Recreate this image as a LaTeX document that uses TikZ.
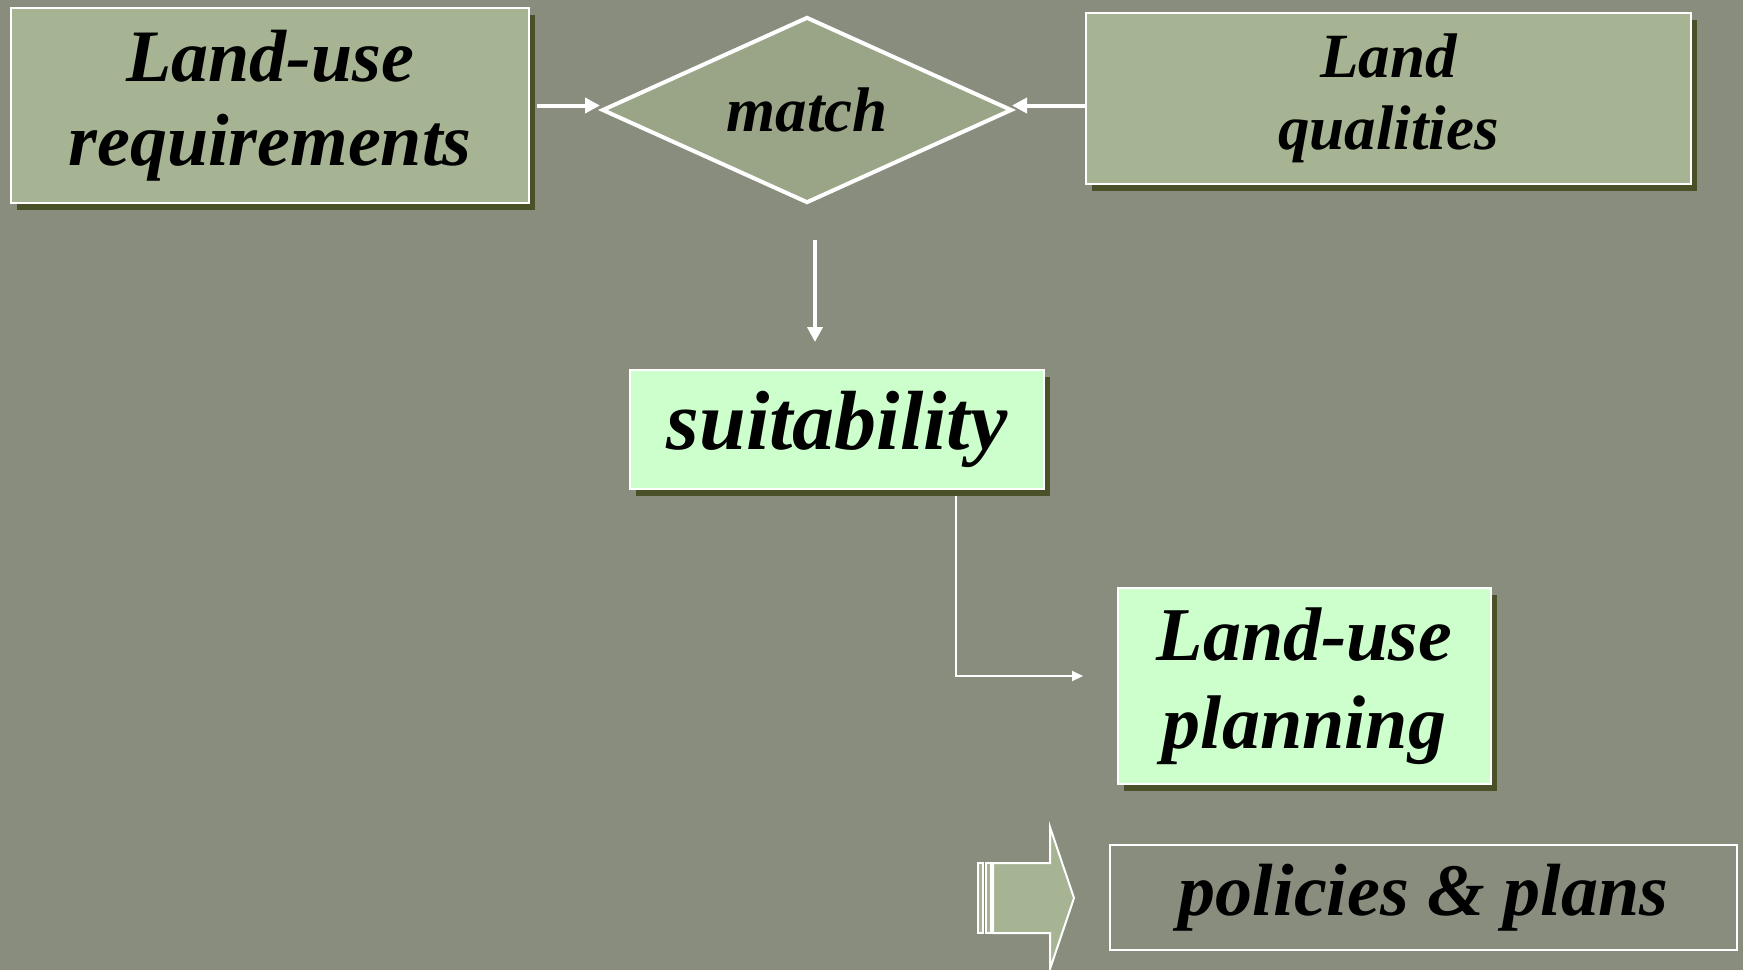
\documentclass[tikz,border=0pt]{standalone}
\usepackage{fontspec}
\setmainfont{Liberation Serif}
\usetikzlibrary{arrows.meta,shapes.geometric,shadows}

\definecolor{slate}{HTML}{898D7E}
\definecolor{sage}{HTML}{A6B494}
\definecolor{sagedark}{HTML}{9AA588}
\definecolor{mint}{HTML}{CCFFCC}
\definecolor{olive}{HTML}{4A5028}

\tikzset{
  box/.style={draw=white, line width=2pt, inner sep=0pt, align=center,
    general shadow={fill=olive, shadow xshift=6pt, shadow yshift=-7pt}},
  thickarrow/.style={draw=white, line width=4pt, -{Triangle[length=15pt,width=15pt]}},
  thinarrow/.style={draw=white, line width=2pt, -{Triangle[length=11pt,width=10pt]}}
}

\begin{document}
\begin{tikzpicture}[x=1pt, y=-1pt]
  \useasboundingbox (0,0) rectangle (1743,970);
  \fill[slate] (0,0) rectangle (1743,970);

  \node (req) at (270,105.5) [box, fill=sage, minimum width=518pt, minimum height=195pt,
    font=\fontsize{74}{84}\selectfont\bfseries\itshape] {Land-use\\requirements};
  \node (match) at (807,110) [diamond, draw=white, line width=4pt, fill=sagedark, inner sep=0pt,
    aspect=2.2, minimum width=410pt, minimum height=186pt,
    font=\fontsize{63}{72}\selectfont\bfseries\itshape] {match};
  \node (qual) at (1388.5,98.5) [box, fill=sage, minimum width=605pt, minimum height=171pt,
    font=\fontsize{63}{72}\selectfont\bfseries\itshape] {Land\\qualities};
  \node (suit) at (837,429.5) [box, fill=mint, minimum width=414pt, minimum height=119pt,
    font=\fontsize{84}{96}\selectfont\bfseries\itshape] {suitability};
  \node (plan) at (1304.5,686) [box, fill=mint, minimum width=373pt, minimum height=196pt,
    font=\fontsize{76}{88}\selectfont\bfseries\itshape] {Land-use\\planning};
  \node (pol) at (1423.5,897.5) [draw=white, line width=1.5pt, inner sep=0pt,
    minimum width=627pt, minimum height=105pt,
    font=\fontsize{74}{84}\selectfont\bfseries\itshape] {policies \& plans};

  \draw[thickarrow] ([xshift=7pt]req.east) -- (req.east -| match.west);
  \draw[thickarrow] (qual.west |- req.east) -- ([xshift=-2pt]req.east -| match.east);
  \draw[thickarrow] ([xshift=8pt,yshift=-35pt]match.south) -- ([xshift=-22pt,yshift=27pt]suit.north);
  \draw[thinarrow] ([xshift=119pt,yshift=-6pt]suit.south) |- ([xshift=-34pt,yshift=10pt]plan.west);

  % block arrow in front of the last box
  \draw[white, line width=1.5pt, fill=sage] (978,863) rectangle (983,933);
  \draw[white, line width=1.5pt, fill=sage] (986,863) rectangle (991,933);
  \draw[white, line width=2pt, fill=sage] (993,863) -- (1050,863) -- (1050,827) -- (1074,898)
    -- (1050,969) -- (1050,933) -- (993,933) -- cycle;
\end{tikzpicture}
\end{document}
